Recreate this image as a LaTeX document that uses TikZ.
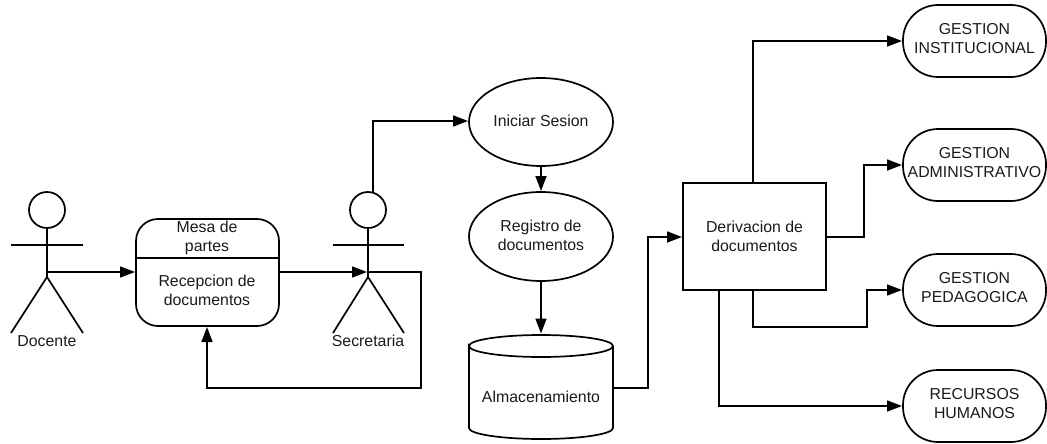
\documentclass[tikz,border=0pt]{standalone}
\usepackage{fontspec}
\setmainfont{Liberation Sans}
\usetikzlibrary{arrows.meta,shapes.geometric}
\definecolor{ink}{HTML}{1A1A1A}
\tikzset{
  base/.style={line width=1.7pt,draw=black,inner sep=0pt,outer sep=0pt},
  label/.style={font=\fontsize{15.85}{19}\selectfont,text=ink,align=center,inner sep=0pt,outer sep=0pt},
  flow/.style={line width=1.7pt,draw=black,-{Triangle[length=15pt,width=11pt]},shorten >=1pt},
  link/.style={line width=1.7pt,draw=black},
  head/.style={base,circle,minimum size=36pt},
  oval/.style={base,ellipse,minimum width=144pt},
  terminal/.style={base,rectangle,rounded corners=35pt,minimum width=143pt,minimum height=72pt},
  boxnode/.style={base,label,rectangle,minimum width=143pt,minimum height=107pt},
  ghost/.style={inner sep=0pt,outer sep=0pt,minimum width=144pt,minimum height=105pt},
}
\begin{document}
\begin{tikzpicture}[x=1pt,y=-1pt]
\useasboundingbox (0,0) rectangle (1047,444);
% Docente actor
\node[head] (dochead) at (47,210) {};
\coordinate (dochip) at (47,277);
\coordinate (docport) at (47,272);
\coordinate (docarmL) at (11,245);
\coordinate (docarmR) at (83,245);
\coordinate (doclegL) at (11,333);
\coordinate (doclegR) at (83,333);
\draw[link] (dochead.south) -- (dochip);
\draw[link] (docarmL) -- (docarmR);
\draw[link] (doclegL) -- (dochip) -- (doclegR);
\node[label] (doclabel) at (47,341) {Docente};
% Secretaria actor
\node[head] (sechead) at (368,210) {};
\coordinate (sechip) at (368,277);
\coordinate (secport) at (368,272);
\coordinate (secarmL) at (333,245);
\coordinate (secarmR) at (404,245);
\coordinate (seclegL) at (333,333);
\coordinate (seclegR) at (404,333);
\draw[link] (sechead.south) -- (sechip);
\draw[link] (secarmL) -- (secarmR);
\draw[link] (seclegL) -- (sechip) -- (seclegR);
\node[label] (seclabel) at (368,341) {Secretaria};
% Process
\node[base,rectangle,rounded corners=22pt,minimum width=143pt,minimum height=107pt] (proc) at (207.5,272.5) {};
\draw[line width=1.2pt] (proc.west |- 0,258) -- (proc.east |- 0,258);
\node[label] (proctop) at (207,238) {Mesa de\\partes};
\node[label] (procmain) at (207,290.5) {Recepcion de\\documentos};
% Centre column
\node[oval,minimum height=88pt] (login) at (541,122) {};
\node[label] (logintext) at (541,120.5) {Iniciar Sesion};
\node[oval,minimum height=89pt] (reg) at (541,236.5) {};
\node[label] (regtext) at (541,235.5) {Registro de\\documentos};
\node[ghost] (store) at (541,387) {};
\draw[base] (469,346) arc[start angle=180,end angle=360,x radius=72,y radius=11]
  arc[start angle=0,end angle=180,x radius=72,y radius=11] -- (469,428)
  arc[start angle=180,end angle=0,x radius=72,y radius=11] -- (613,346);
\node[label] (storetext) at (541,397) {Almacenamiento};
% Derivation
\node[boxnode] (deriv) at (754.5,236.5) {Derivacion de\\documentos};
% Terminals
\node[terminal] (t1) at (974.5,41) {};
\node[label] (t1text) at (974.5,38.5) {GESTION\\INSTITUCIONAL};
\node[terminal] (t2) at (974.5,165) {};
\node[label] (t2text) at (974.5,163) {GESTION\\ADMINISTRATIVO};
\node[terminal] (t3) at (974.5,290) {};
\node[label] (t3text) at (974.5,288) {GESTION\\PEDAGOGICA};
\node[terminal] (t4) at (974.5,406) {};
\node[label] (t4text) at (974.5,404) {RECURSOS\\HUMANOS};
% Connectors
\draw[flow] (docport) -- (proc.west |- docport);
\draw[flow] (proc.east |- secport) -- (secport);
\draw[flow] (secport) -- (421,272) -- (421,388) -- (207,388) -- (proc.south -| 207,0);
\draw[flow] (sechead.north -| 373,0) -- (373,121) -- (login.west |- 0,121);
\draw[flow] (login) -- (reg);
\draw[flow] (reg.south) -- (store.north);
\draw[flow] (store.east |- 0,388) -- (648,388) -- (648,237) -- (deriv.west |- 0,237);
\draw[flow] (deriv.north -| 753,0) -- (753,41) -- (t1.west);
\draw[flow] (deriv.east |- 0,237) -- (864,237) -- (864,165) -- (t2.west);
\draw[flow] (deriv.south -| 753,0) -- (753,327) -- (867,327) -- (867,290) -- (t3.west);
\draw[flow] (deriv.south -| 719,0) -- (719,406) -- (t4.west);
\end{tikzpicture}
\end{document}
